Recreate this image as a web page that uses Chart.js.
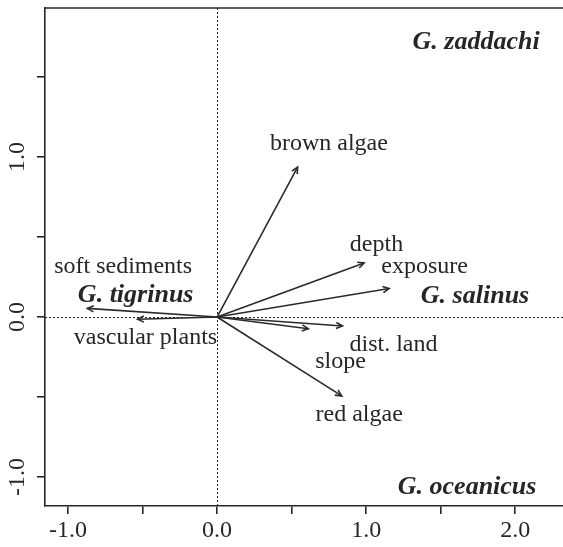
<!DOCTYPE html>
<html lang="en">
<head>
    <meta charset="UTF-8">
    <title>RDA biplot</title>
    <script src="https://cdn.jsdelivr.net/npm/chart.js"></script>
    <style>
        body { margin: 0; background: #fff; }
        #wrap { width: 563px; height: 547px; position: relative; }
    </style>
</head>
<body>
    <div id="wrap"><canvas id="biplot"></canvas></div>

    <script>
        // environmental variables (arrow tips) and where their labels sit
        const variables = ['brown algae', 'depth', 'exposure', 'dist. land', 'slope', 'red algae', 'soft sediments', 'vascular plants'];
        const arrowX = [0.54, 0.986, 1.154, 0.841, 0.612, 0.836, -0.87, -0.533];
        const arrowY = [0.937, 0.338, 0.178, -0.056, -0.073, -0.493, 0.054, -0.014];
        const labelX = [0.75, 1.069, 1.392, 1.183, 0.828, 0.953, -0.63, -0.48];
        const labelY = [1.085, 0.451, 0.316, -0.171, -0.281, -0.608, 0.314, -0.132];

        // species names
        const species = ['G. zaddachi', 'G. tigrinus', 'G. salinus', 'G. oceanicus'];
        const speciesX = [1.737, -0.546, 1.73, 1.677];
        const speciesY = [1.719, 0.134, 0.128, -1.067];

        const ink = '#262626';
        const serif = "'Liberation Serif', 'Times New Roman', serif";

        const datasets = variables.map((name, i) => ({
            label: name,
            data: [{ x: 0, y: 0 }, { x: arrowX[i], y: arrowY[i] }],
            showLine: true,
            borderColor: '#2b2b2b',
            borderWidth: 1.6,
            pointRadius: 0,
            pointHoverRadius: 0
        }));

        const biplotPlugin = {
            id: 'biplot',
            beforeDatasetsDraw(chart) {
                const { ctx, chartArea: a, scales: { x, y } } = chart;
                const x0 = Math.round(x.getPixelForValue(0)) + 0.5;
                const y0 = Math.round(y.getPixelForValue(0)) + 0.5;
                ctx.save();
                ctx.strokeStyle = ink;
                ctx.lineWidth = 1;
                ctx.setLineDash([2, 2]);
                ctx.beginPath();
                ctx.moveTo(x0, a.top);
                ctx.lineTo(x0, a.bottom);
                ctx.moveTo(a.left, y0);
                ctx.lineTo(a.right, y0);
                ctx.stroke();
                ctx.restore();
            },
            afterDatasetsDraw(chart) {
                const { ctx, chartArea: a, scales: { x, y } } = chart;
                ctx.save();
                // arrow heads
                ctx.strokeStyle = '#2b2b2b';
                ctx.lineWidth = 1.6;
                chart.data.datasets.forEach((ds, i) => {
                    const pts = chart.getDatasetMeta(i).data;
                    const p0 = pts[0], p1 = pts[1];
                    const ang = Math.atan2(p1.y - p0.y, p1.x - p0.x);
                    const len = 7;
                    ctx.beginPath();
                    ctx.moveTo(p1.x - len * Math.cos(ang - 0.45), p1.y - len * Math.sin(ang - 0.45));
                    ctx.lineTo(p1.x, p1.y);
                    ctx.lineTo(p1.x - len * Math.cos(ang + 0.45), p1.y - len * Math.sin(ang + 0.45));
                    ctx.stroke();
                });

                // variable labels
                ctx.fillStyle = ink;
                ctx.textAlign = 'center';
                ctx.textBaseline = 'middle';
                ctx.font = '24px ' + serif;
                variables.forEach((name, i) => {
                    ctx.fillText(name, x.getPixelForValue(labelX[i]), y.getPixelForValue(labelY[i]));
                });

                // species labels
                ctx.font = 'italic bold 26px ' + serif;
                species.forEach((name, i) => {
                    ctx.fillText(name, x.getPixelForValue(speciesX[i]), y.getPixelForValue(speciesY[i]));
                });

                // top edge of the box
                ctx.lineWidth = 1.6;
                ctx.strokeStyle = ink;
                ctx.setLineDash([]);
                ctx.beginPath();
                ctx.moveTo(a.left, a.top);
                ctx.lineTo(a.right, a.top);
                ctx.stroke();

                // rotated y tick labels
                ctx.font = '24px ' + serif;
                y.ticks.forEach(t => {
                    if (!Number.isInteger(t.value)) return;
                    ctx.save();
                    ctx.translate(18, y.getPixelForValue(t.value));
                    ctx.rotate(-Math.PI / 2);
                    ctx.fillText(t.value.toFixed(1), 0, 0);
                    ctx.restore();
                });
                ctx.restore();
            }
        };

        new Chart(document.getElementById('biplot'), {
            type: 'scatter',
            data: { datasets: datasets },
            options: {
                responsive: true,
                maintainAspectRatio: false,
                animation: false,
                layout: { padding: { top: 8, right: 0, left: 0, bottom: 0 } },
                plugins: {
                    legend: { display: false },
                    tooltip: { enabled: false }
                },
                scales: {
                    x: {
                        type: 'linear',
                        min: -1.154,
                        max: 2.32,
                        afterFit(scale) { scale.height = 41; },
                        border: { display: true, color: ink, width: 1.6 },
                        grid: { drawOnChartArea: false, drawTicks: true, tickLength: 8, color: ink, lineWidth: 1.6 },
                        ticks: {
                            stepSize: 0.5,
                            includeBounds: false,
                            maxRotation: 0,
                            autoSkip: false,
                            padding: 2,
                            color: ink,
                            font: { family: serif, size: 24 },
                            callback: v => Number.isInteger(v) ? v.toFixed(1) : ''
                        }
                    },
                    y: {
                        type: 'linear',
                        min: -1.181,
                        max: 1.931,
                        afterFit(scale) { scale.width = 45; },
                        border: { display: true, color: ink, width: 1.6 },
                        grid: { drawOnChartArea: false, drawTicks: true, tickLength: 8, color: ink, lineWidth: 1.6 },
                        ticks: {
                            stepSize: 0.5,
                            includeBounds: false,
                            display: false
                        }
                    }
                }
            },
            plugins: [biplotPlugin]
        });
    </script>
</body>
</html>
